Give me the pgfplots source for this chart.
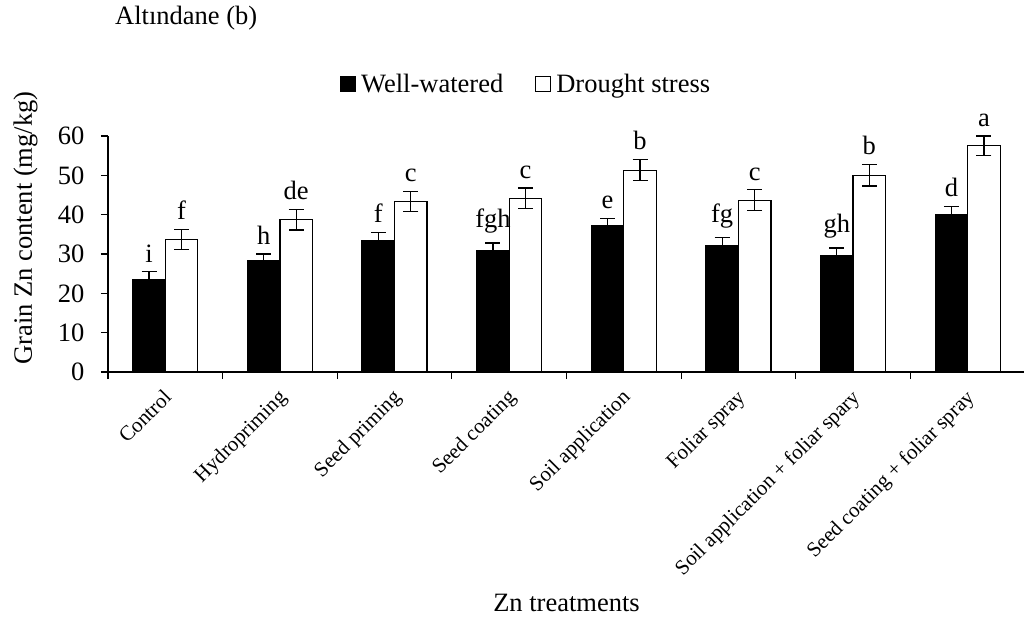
\documentclass[border=0pt]{standalone}
\usepackage{pgfplots}
\pgfplotsset{compat=1.18}
\usepackage{pgfplotstable}
\usepackage{fontspec}
\setmainfont{Liberation Serif}

% Grain Zn content (mg/kg): mean, standard error, significance letter
\pgfplotstableread{
x y err lab
0 23.5 2.0 i
1 28.2 1.8 h
2 33.5 2.0 f
3 30.8 2.0 fgh
4 37.1 1.9 e
5 32.1 2.0 fg
6 29.5 2.0 gh
7 40.1 2.0 d
}\wellwatered
\pgfplotstableread{
x y err lab
0 33.7 2.6 f
1 38.7 2.6 de
2 43.4 2.5 c
3 44.2 2.6 c
4 51.3 2.7 b
5 43.7 2.6 c
6 50.0 2.7 b
7 57.5 2.5 a
}\drought

\newcommand{\bigfont}{\fontsize{26.5bp}{31bp}\selectfont}
\newcommand{\catfont}{\fontsize{21bp}{25bp}\selectfont}

\begin{document}
\begin{tikzpicture}
\path[use as bounding box] (0,0) rectangle (1024bp,622bp);
\begin{axis}[
  at={(108bp,250bp)}, anchor=south west,
  scale only axis, width=917bp, height=236bp,
  ybar=0pt, bar width=32.5bp,
  xmin=-0.5, xmax=7.5, ymin=0, ymax=60,
  enlargelimits=false,
  axis x line*=bottom, axis y line*=left,
  axis line style={line width=1.2bp, black},
  tick align=outside, major tick length=7bp,
  tick style={line width=1.2bp, black},
  xtick={-0.5,0.5,...,7.5},
  x tick label as interval,
  xticklabels={Control, Hydropriming, Seed priming, Seed coating,
    Soil application, Foliar spray, Soil application + foliar spary,
    Seed coating + foliar spray},
  xticklabel style={font=\catfont, rotate=45, anchor=north east, inner sep=0pt,
    xshift=-8.5bp, yshift=-4.2bp},
  ytick={0,10,...,60},
  yticklabel style={font=\bigfont, xshift=-13bp},
  /pgf/number format/assume math mode=true,
  title={Altındane (b)},
  title style={font=\bigfont, at={(0.0076,1.449)}, anchor=base west, inner sep=0pt},
  xlabel={Zn treatments},
  xlabel style={font=\bigfont, at={(0.5,-0.979)}, anchor=center},
  ylabel={Grain Zn content (mg/kg)},
  ylabel style={font=\bigfont, at={(-0.09,0.61)}, anchor=center},
  legend columns=2,
  legend style={at={(0.456,1.22)}, anchor=center, draw=none, fill=none,
    font=\bigfont, inner sep=0pt,
    /tikz/every even column/.append style={column sep=30bp}},
  legend image code/.code={\draw[#1, line width=1bp] (0bp,-7.5bp) rectangle (15bp,7.5bp);
    \path (18bp,0bp);},
  point meta=explicit symbolic,
  nodes near coords,
  visualization depends on={3.933*\thisrow{err} \as \eshift},
  every node near coord/.append style={font=\bigfont, black, anchor=south,
    inner sep=0pt, yshift=\eshift bp + 9bp},
  error bars/y dir=both, error bars/y explicit,
  error bars/error bar style={line width=1.2bp, black},
  error bars/error mark options={rotate=90, mark size=7.5bp, line width=1.2bp, black},
]
\addplot[draw=black, fill=black, line width=1.2bp]
  table[x=x, y=y, y error=err, meta=lab] {\wellwatered};
\addlegendentry{Well-watered}
\addplot[draw=black, fill=white, line width=1.2bp]
  table[x=x, y=y, y error=err, meta=lab] {\drought};
\addlegendentry{Drought stress}
\end{axis}
\end{tikzpicture}
\end{document}
